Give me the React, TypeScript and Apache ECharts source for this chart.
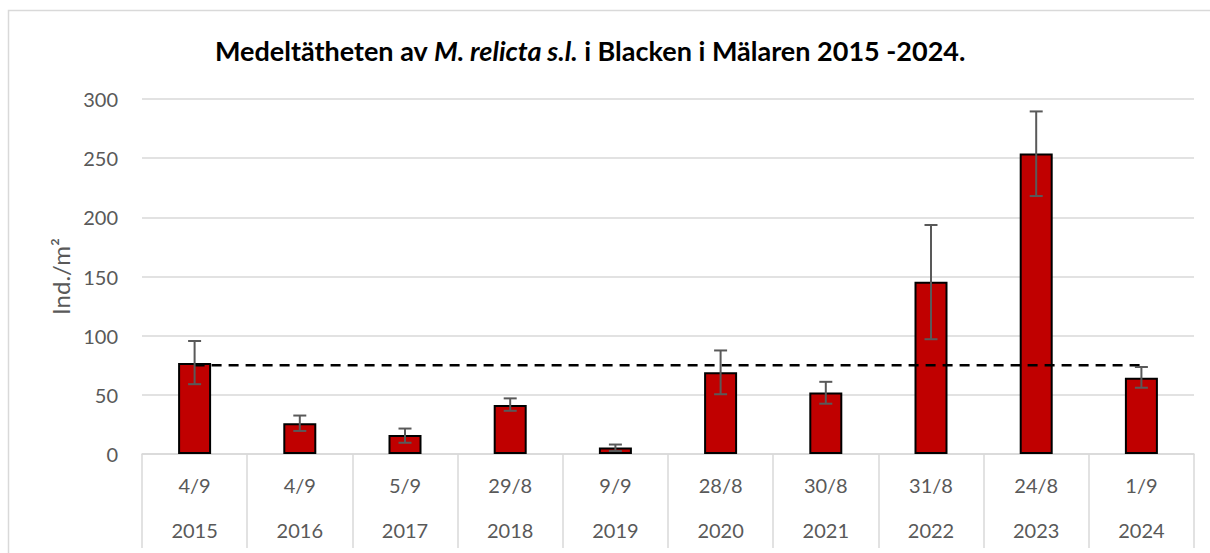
import React, { useEffect, useRef } from "react";
import * as echarts from "echarts";

const dates = ["4/9", "4/9", "5/9", "29/8", "9/9", "28/8", "30/8", "31/8", "24/8", "1/9"];
const years = ["2015", "2016", "2017", "2018", "2019", "2020", "2021", "2022", "2023", "2024"];
const means = [77, 26, 16, 41.5, 5.5, 69, 52, 145.5, 254, 64.5];
const errLow = [59, 19.5, 9.5, 36.5, 2.5, 50.5, 42.5, 97, 218, 56];
const errHigh = [95.5, 32.5, 21.5, 47, 8, 87.5, 61, 193.5, 289.5, 73.5];
const refValue = 75;
const yTicks = { min: 0, max: 300, interval: 50 };

const FONT = "Lato, 'Open Sans', sans-serif";
const GREY = "#595959";
const LIGHT = "#d9d9d9";

export default function App() {
  const ref = useRef<HTMLDivElement>(null);
  useEffect(() => {
    if (!ref.current) return;
    const chart = echarts.init(ref.current, null, { renderer: "svg" });
    const errData = means.map((_, i) => [i, errLow[i], errHigh[i]]);
    chart.setOption({
      animation: false,
      backgroundColor: "#fff",
      grid: { left: 142, right: 16, top: 99, bottom: 99, containLabel: false },
      graphic: [
        {
          type: "rect",
          shape: { x: 8.5, y: 10.5, width: 1400, height: 700 },
          style: { fill: "none", stroke: LIGHT, lineWidth: 1.5 },
          silent: true,
        },
        {
          type: "text",
          x: 590,
          y: 50,
          style: {
            text: "{b|Medeltätheten av }{bi|M. relicta s.l.}{b| i Blacken i Mälaren 2015 -2024.}",
            align: "center",
            verticalAlign: "middle",
            rich: {
              b: { fontFamily: FONT, fontWeight: "bold", fontSize: 27, fill: "#000" },
              bi: { fontFamily: FONT, fontWeight: "bold", fontStyle: "italic", fontSize: 27, fill: "#000" },
            },
          },
        },
      ],
      xAxis: [
        {
          type: "category",
          data: dates,
          position: "bottom",
          axisLine: { show: true, lineStyle: { color: LIGHT, width: 1.5 } },
          axisTick: { show: true, length: 94, interval: 0, lineStyle: { color: LIGHT, width: 1.5 } },
          axisLabel: { interval: 0, margin: 21, color: GREY, fontFamily: FONT, fontSize: 20 },
        },
        {
          type: "category",
          data: years,
          position: "bottom",
          axisLine: { show: false },
          axisTick: { show: false },
          axisLabel: { interval: 0, margin: 66, color: GREY, fontFamily: FONT, fontSize: 20 },
        },
      ],
      yAxis: {
        type: "value",
        min: yTicks.min,
        max: yTicks.max,
        interval: yTicks.interval,
        name: "Ind./m²",
        nameLocation: "middle",
        nameRotate: 90,
        nameGap: 70,
        nameTextStyle: { color: GREY, fontFamily: FONT, fontSize: 24 },
        axisLine: { show: false },
        axisTick: { show: false },
        axisLabel: { color: GREY, fontFamily: FONT, fontSize: 20, margin: 24 },
        splitLine: { lineStyle: { color: LIGHT, width: 1.5 } },
      },
      series: [
        {
          type: "bar",
          data: means,
          barWidth: 33,
          itemStyle: { color: "#C00000", borderColor: "#000", borderWidth: 2 },
          z: 2,
        },
        {
          type: "line",
          data: means.map(() => refValue),
          symbol: "none",
          lineStyle: { color: "#000", width: 2.5, type: [10, 7] },
          z: 3,
        },
        {
          type: "custom",
          data: errData,
          z: 4,
          renderItem: (params: any, api: any) => {
            const x = api.value(0);
            const lo = api.coord([x, api.value(1)]);
            const hi = api.coord([x, api.value(2)]);
            const cap = 6.5;
            const style = { stroke: GREY, lineWidth: 2 };
            return {
              type: "group",
              children: [
                { type: "line", shape: { x1: lo[0], y1: lo[1], x2: hi[0], y2: hi[1] }, style },
                { type: "line", shape: { x1: hi[0] - cap, y1: hi[1], x2: hi[0] + cap, y2: hi[1] }, style },
                { type: "line", shape: { x1: lo[0] - cap, y1: lo[1], x2: lo[0] + cap, y2: lo[1] }, style },
              ],
            };
          },
        },
      ],
    });
    return () => chart.dispose();
  }, []);
  return (
    <div
      ref={ref}
      style={{ position: "fixed", left: 0, top: 0, width: 1210, height: 553 }}
    />
  );
}
